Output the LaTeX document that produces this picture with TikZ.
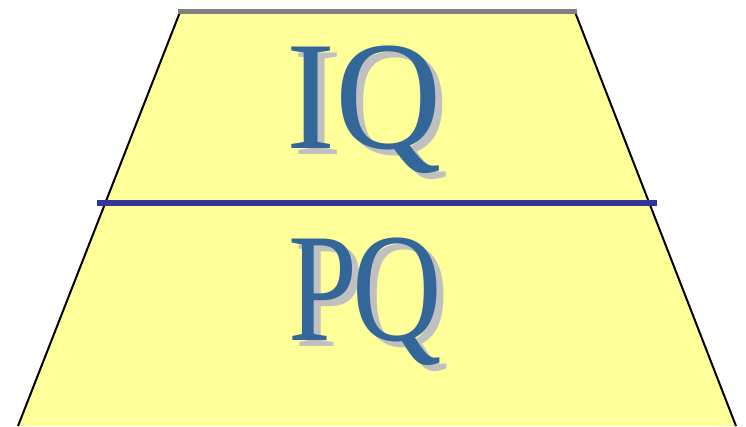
\documentclass[tikz,border=0pt]{standalone}
\usepackage{fontspec}
\setmainfont{Liberation Serif}
\usetikzlibrary{positioning, calc}
\definecolor{padyellow}{HTML}{FFFF99}
\definecolor{lettblue}{HTML}{336699}
\definecolor{lettshadow}{HTML}{C0C0C0}
\definecolor{splitblue}{HTML}{333399}
\definecolor{topgray}{HTML}{808080}
\newcommand{\narrow}[2]{\scalebox{#1}[1]{#2}}

\begin{document}
\begin{tikzpicture}[
    x=1pt, y=-1pt,
    bigletters/.style={inner sep=0pt, anchor=base, font=\fontsize{155}{155}\selectfont},
    front/.style={bigletters, text=lettblue},
    shadow/.style={bigletters, text=lettshadow},
    side/.style={line width=2pt, black},
    topline/.style={line width=5pt, topgray},
    splitline/.style={line width=6pt, splitblue},
]
    \useasboundingbox (0,0) rectangle (746,426);

    % Trapezoid body
    \coordinate (tl) at (180,12);
    \coordinate (tr) at (575,12);
    \coordinate (bl) at (18,426);
    \coordinate (br) at (736,426);
    \fill [padyellow] (tl) -- (tr) -- (br) -- (bl) -- cycle;
    \draw [side] (tl) -- (bl);
    \draw [side] (tr) -- (br);
    \draw [topline] (178,11) coordinate (ts) -- (577,11) coordinate (te);

    % Divider
    \coordinate (sl) at (97,203);
    \coordinate (sr) at (657,203);
    \draw [splitline] (sl) -- (sr);

    % Letters
    \node (iq_shadow) [shadow] at (371,154) {\narrow{0.95}{IQ}};
    \node (iq) [front] at (364,148) {\narrow{0.95}{IQ}};
    \node (pq_shadow) [shadow] at (372,346) {\narrow{0.8}{P\kern-6ptQ}};
    \node (pq) [front] at (365,340) {\narrow{0.8}{P\kern-6ptQ}};

\end{tikzpicture}
\end{document}
